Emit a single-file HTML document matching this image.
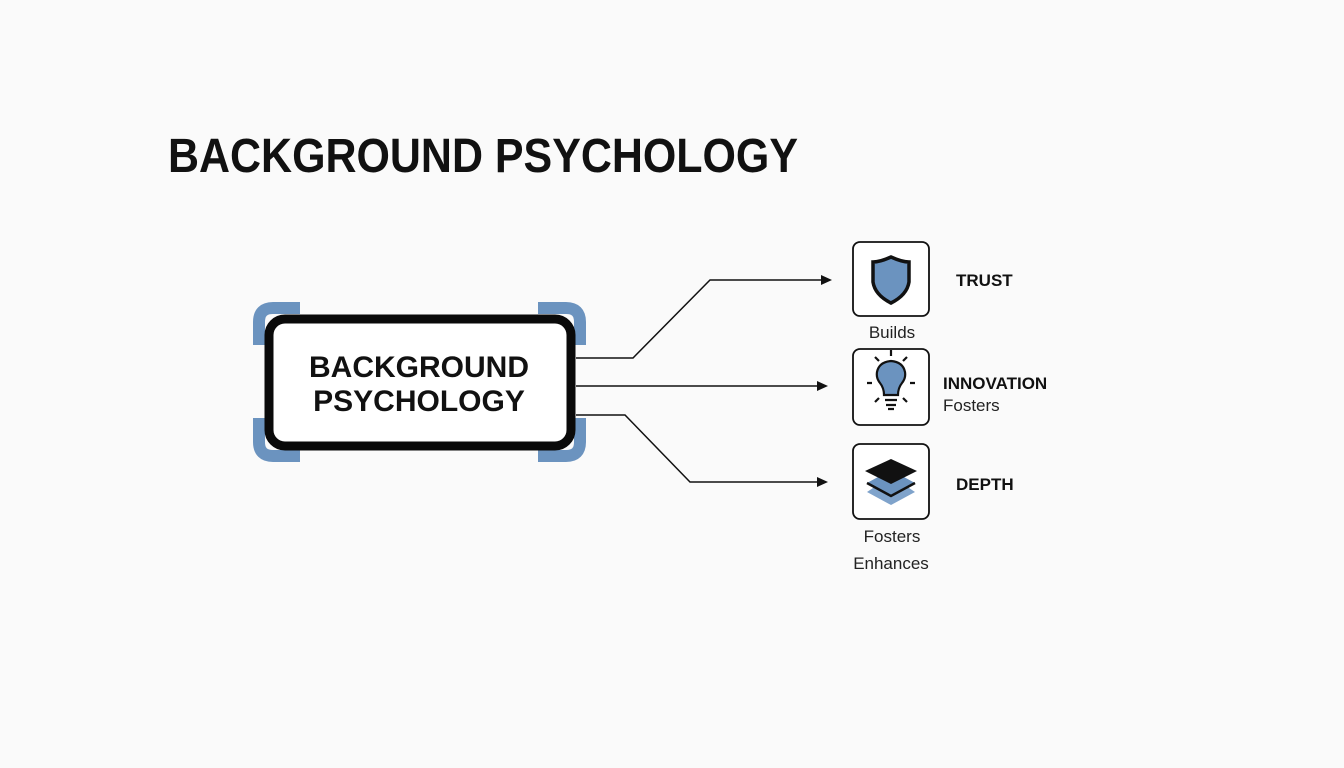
<!DOCTYPE html>
<html><head><meta charset="utf-8"><style>
html,body{margin:0;padding:0;background:#fafafa;}
svg{display:block;font-family:"Liberation Sans",sans-serif;}
</style></head><body>
<svg width="1344" height="768" viewBox="0 0 1344 768">
<rect width="1344" height="768" fill="#fafafa"/>
<text x="168" y="172" font-size="48" font-weight="bold" fill="#111" textLength="630" lengthAdjust="spacingAndGlyphs">BACKGROUND PSYCHOLOGY</text>
<g fill="none" stroke="#6b93bf" stroke-width="12">
<path d="M259 345 V322 Q259 308 273 308 H300"/>
<path d="M259 418 V442 Q259 456 273 456 H300"/>
<path d="M538 308 H566 Q580 308 580 322 V345"/>
<path d="M538 456 H566 Q580 456 580 442 V418"/>
</g>
<rect x="269" y="319" width="302" height="127" rx="16" fill="#fff" stroke="#0a0a0a" stroke-width="9"/>
<text x="419" y="377" font-size="30" font-weight="bold" text-anchor="middle" fill="#111">BACKGROUND</text>
<text x="419" y="411" font-size="30" font-weight="bold" text-anchor="middle" fill="#111">PSYCHOLOGY</text>
<g fill="none" stroke="#111" stroke-width="1.5">
<path d="M576 358 H633 L710 280 H822"/>
<path d="M576 386 H818"/>
<path d="M576 415 H625 L690 482 H818"/>
</g>
<g fill="#111">
<path d="M832 280 L821 275 L821 285 Z"/>
<path d="M828 386 L817 381 L817 391 Z"/>
<path d="M828 482 L817 477 L817 487 Z"/>
</g>
<g fill="#fff" stroke="#111" stroke-width="1.8">
<rect x="853" y="242" width="76" height="74" rx="7"/>
<rect x="853" y="349" width="76" height="76" rx="7"/>
<rect x="853" y="444" width="76" height="75" rx="7"/>
</g>
<path d="M891 257 Q880 262 873 262 V282 Q875 295 891 303 Q907 295 909 282 V262 Q902 262 891 257 Z" fill="#6b93bf" stroke="#111" stroke-width="3.5"/>
<g stroke="#111" stroke-width="2.2" fill="none">
<path d="M884 395 Q884 388 880 383 Q876 378 877 372 Q879 362 891 361 Q903 362 905 372 Q906 378 902 383 Q898 388 898 395 Z" fill="#6b93bf"/>
<path d="M885 400 H897 M886 405 H896 M888 409 H894"/>
<path d="M891 350 V356 M875 357 L879 361 M907 357 L903 361 M867 383 H872 M910 383 H915 M875 402 L879 398 M907 402 L903 398"/>
</g>
<path d="M891 476 L915 492 L891 505 L867 492 Z" fill="#7fa3cb"/>
<path d="M891 470 L915 483 L891 496 L867 483 Z" fill="#6b93bf"/>
<path d="M867 483 L891 496 L915 483" fill="none" stroke="#111" stroke-width="2.5"/>
<path d="M891 459 L917 471 L891 484 L865 471 Z" fill="#111"/>
<g font-size="17" fill="#222" text-anchor="middle">
<text x="892" y="338">Builds</text>
<text x="892" y="542">Fosters</text>
<text x="891" y="569">Enhances</text>
</g>
<text x="943" y="411" font-size="17" fill="#222">Fosters</text>
<g font-size="17" font-weight="bold" fill="#111">
<text x="956" y="286">TRUST</text>
<text x="943" y="389">INNOVATION</text>
<text x="956" y="490">DEPTH</text>
</g>
</svg>
</body></html>
